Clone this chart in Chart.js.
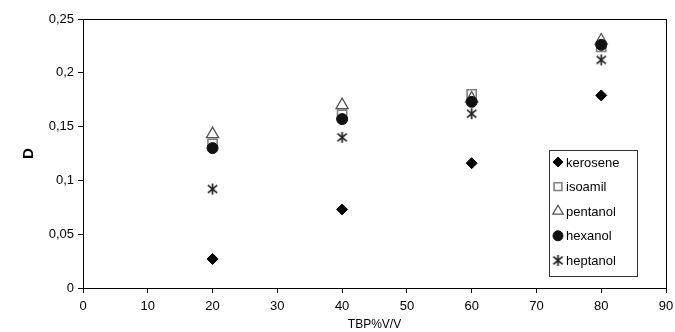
<!DOCTYPE html>
<html><head><meta charset="utf-8">
<script src="https://cdn.jsdelivr.net/npm/chart.js@4/dist/chart.umd.min.js"></script>
<style>html,body{margin:0;padding:0;background:#fff}#wrap{width:675px;height:332px}</style>
</head><body><div id="wrap"><canvas id="c" width="675" height="332"></canvas></div>
<script>
const xValues = [20, 40, 60, 80];
const kerosene = [0.027, 0.073, 0.116, 0.179];
const isoamil = [0.134, 0.161, 0.180, 0.224];
const pentanol = [0.143, 0.170, 0.176, 0.230];
const hexanol = [0.130, 0.157, 0.173, 0.226];
const heptanol = [0.092, 0.140, 0.162, 0.212];
const seriesNames = ['kerosene', 'isoamil', 'pentanol', 'hexanol', 'heptanol'];
const xTitle = 'TBP%V/V';
const yTitle = 'D';

function star(size, color) {
  const c = document.createElement('canvas');
  c.width = size; c.height = size;
  const g = c.getContext('2d');
  g.strokeStyle = color; g.lineWidth = 1.7;
  const m = size / 2, r = size / 2 - 1;
  g.beginPath();
  g.moveTo(m, m - r); g.lineTo(m, m + r);
  g.moveTo(m - r * 0.85, m - r * 0.7); g.lineTo(m + r * 0.85, m + r * 0.7);
  g.moveTo(m - r * 0.85, m + r * 0.7); g.lineTo(m + r * 0.85, m - r * 0.7);
  g.stroke();
  return c;
}
const starImg = star(13, '#222');

const toPts = arr => arr.map((v, i) => ({x: xValues[i], y: v}));
const styles = [
  {pointStyle: 'rectRot', radius: 5.5, bg: '#000', bc: '#000', bw: 1},
  {pointStyle: 'rect', radius: 6.5, bg: 'rgba(0,0,0,0)', bc: '#808080', bw: 1.6},
  {pointStyle: 'triangle', radius: 7, bg: 'rgba(0,0,0,0)', bc: '#555', bw: 1.3},
  {pointStyle: 'circle', radius: 5.5, bg: '#111', bc: '#111', bw: 1},
  {pointStyle: starImg, radius: 6, bg: '#222', bc: '#222', bw: 1}
];
const allData = [kerosene, isoamil, pentanol, hexanol, heptanol];
const datasets = allData.map((d, i) => ({
  label: seriesNames[i],
  data: toPts(d),
  showLine: false,
  pointStyle: styles[i].pointStyle,
  pointRadius: styles[i].radius,
  pointBackgroundColor: styles[i].bg,
  pointBorderColor: styles[i].bc,
  pointBorderWidth: styles[i].bw
}));
const order = [1, 2, 3, 4, 0];
datasets.forEach((d, i) => d.order = 10 - order.indexOf(i));

const frame = {
  id: 'frame',
  afterDraw(chart) {
    const {ctx, chartArea: a} = chart;
    const H = Chart.helpers;
    ctx.save();
    ctx.strokeStyle = '#000'; ctx.lineWidth = 1;
    ctx.strokeRect(Math.round(a.left) + 0.5, Math.round(a.top) + 0.5, Math.round(a.right - a.left), Math.round(a.bottom - a.top));
    const lx = 549, ly = 150, lw = 88, lh = 126;
    ctx.fillStyle = '#fff';
    ctx.fillRect(lx, ly, lw, lh);
    ctx.strokeStyle = '#333';
    ctx.strokeRect(lx + 0.5, ly + 0.5, lw, lh);
    ctx.font = '13px "Liberation Sans", Arial, sans-serif';
    ctx.textBaseline = 'middle';
    datasets.forEach((d, i) => {
      const y = ly + 12 + i * 24.6;
      const mx = lx + 9;
      const st = styles[i];
      ctx.save();
      ctx.fillStyle = st.bg; ctx.strokeStyle = st.bc; ctx.lineWidth = st.bw;
      if (typeof st.pointStyle === 'object') {
        ctx.drawImage(st.pointStyle, mx - st.pointStyle.width / 2, y - st.pointStyle.height / 2);
      } else {
        H.drawPoint(ctx, {pointStyle: st.pointStyle, radius: i === 2 ? 6 : (i === 1 ? 5.5 : 5), rotation: 0, borderWidth: st.bw}, mx, y);
      }
      ctx.restore();
      ctx.fillStyle = '#000';
      ctx.fillText(d.label, lx + 17, y + 1);
    });
    ctx.restore();
  }
};

const ff = '"Liberation Sans", Arial, sans-serif';
const tickFont = {family: ff, size: 13};
new Chart(document.getElementById('c'), {
  type: 'scatter',
  data: {datasets},
  options: {
    responsive: false,
    animation: false,
    layout: {padding: {left: 20, right: 9, top: 19, bottom: 0}},
    plugins: {legend: {display: false}, tooltip: {enabled: false}},
    scales: {
      x: {
        type: 'linear', min: 0, max: 90,
        ticks: {stepSize: 10, color: '#000', font: tickFont, padding: 6, maxRotation: 0},
        grid: {display: true, drawOnChartArea: false, color: '#000', tickLength: 5, tickColor: '#000'},
        border: {color: '#000'},
        title: {display: true, text: xTitle, color: '#000', font: {family: ff, size: 12}, padding: {top: -4, bottom: 0}},
        afterFit(s) { s.height = 44; s.paddingRight = 0; s.paddingLeft = 0; }
      },
      y: {
        type: 'linear', min: 0, max: 0.25,
        ticks: {stepSize: 0.05, color: '#000', font: tickFont, padding: 4,
          callback: v => Number(v.toFixed(2)).toString().replace('.', ',')},
        grid: {display: true, drawOnChartArea: false, color: '#000', tickLength: 5, tickColor: '#000'},
        border: {color: '#000'},
        title: {display: true, text: yTitle, color: '#000', font: {family: ff, size: 15, weight: 'bold'}, padding: {top: 0, bottom: 0}},
        afterFit(s) { s.width = 63; s.paddingTop = 0; s.paddingBottom = 0; }
      }
    }
  },
  plugins: [frame]
});
</script></body></html>
